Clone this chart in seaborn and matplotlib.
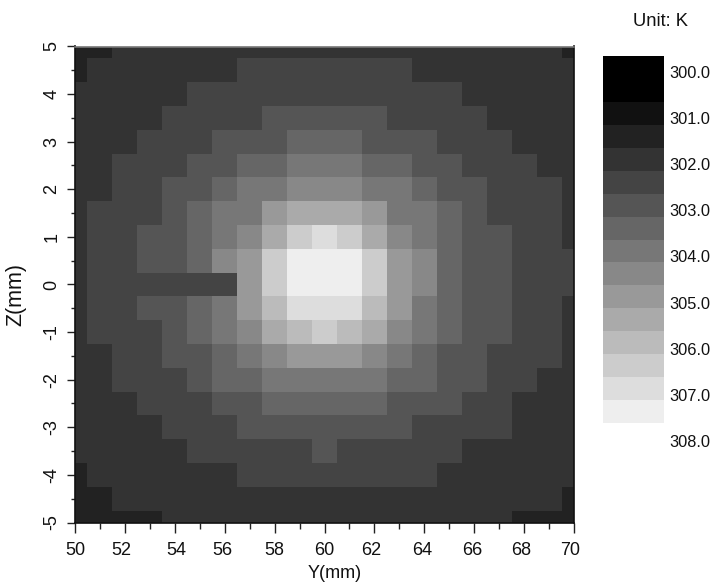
import numpy as np
import pandas as pd
import matplotlib
matplotlib.use("Agg")
import matplotlib.pyplot as plt
from matplotlib.colors import ListedColormap
from matplotlib.transforms import ScaledTranslation
import seaborn as sns

sns.set_style("white")
plt.rcParams['font.family'] = ['Liberation Sans', 'DejaVu Sans']

y_mm = np.arange(50, 71)
z_mm = np.arange(5, -5.5, -0.5)

# grey-band index (0 = coolest) per cell, one list per Z row
z_p50 = [2,2,3,3,3,3,3,3,3,3,3,3,3,3,3,3,3,3,3,3,2]
z_p45 = [2,3,3,3,3,3,3,4,4,4,4,4,4,4,3,3,3,3,3,3,3]
z_p40 = [3,3,3,3,3,4,4,4,4,4,4,4,4,4,4,4,3,3,3,3,3]
z_p35 = [3,3,3,3,4,4,4,4,5,5,5,5,5,4,4,4,4,3,3,3,3]
z_p30 = [3,3,3,4,4,4,5,5,5,6,6,6,5,5,5,4,4,4,3,3,3]
z_p25 = [3,3,4,4,4,5,5,6,6,7,7,7,6,6,5,5,4,4,4,3,3]
z_p20 = [3,3,4,4,5,5,6,7,7,8,8,8,7,7,6,5,5,4,4,4,3]
z_p15 = [3,4,4,4,5,6,7,7,9,10,10,10,9,7,7,6,5,4,4,4,3]
z_p10 = [3,4,4,5,5,6,7,8,10,12,13,12,10,8,7,6,5,5,4,4,3]
z_p05 = [3,4,4,5,5,6,8,9,12,14,14,14,12,9,8,6,5,5,4,4,4]
z_000 = [3,4,4,4,4,4,4,9,12,14,14,14,12,9,8,6,5,5,4,4,4]
z_m05 = [3,4,4,5,5,6,7,9,11,13,13,13,11,9,7,6,5,5,4,4,3]
z_m10 = [3,4,4,4,5,6,7,8,10,11,12,11,10,8,7,6,5,5,4,4,3]
z_m15 = [3,3,4,4,5,5,6,7,8,9,9,9,8,7,6,5,5,4,4,4,3]
z_m20 = [3,3,4,4,4,5,6,6,7,7,7,7,7,6,6,5,5,4,4,3,3]
z_m25 = [3,3,3,4,4,4,5,5,6,6,6,6,6,5,5,5,4,4,3,3,3]
z_m30 = [3,3,3,3,4,4,4,5,5,5,5,5,5,5,4,4,4,4,3,3,3]
z_m35 = [3,3,3,3,3,4,4,4,4,4,5,4,4,4,4,4,3,3,3,3,3]
z_m40 = [2,3,3,3,3,3,3,4,4,4,4,4,4,4,4,3,3,3,3,3,3]
z_m45 = [2,2,3,3,3,3,3,3,3,3,3,3,3,3,3,3,3,3,3,3,2]
z_m50 = [2,2,2,2,3,3,3,3,3,3,3,3,3,3,3,3,3,3,2,2,2]

rows = [z_p50, z_p45, z_p40, z_p35, z_p30, z_p25, z_p20, z_p15, z_p10, z_p05, z_000,
        z_m05, z_m10, z_m15, z_m20, z_m25, z_m30, z_m35, z_m40, z_m45, z_m50]

band_colors = ["#000000", "#111111", "#222222", "#333333", "#444444", "#555555", "#666666",
               "#777777", "#888888", "#999999", "#aaaaaa", "#bbbbbb", "#cccccc", "#dddddd", "#eeeeee"]
legend_bands = [0, 0, 1, 2, 3, 4, 5, 6, 7, 8, 9, 10, 11, 12, 13, 14]
legend_labels = ["300.0", "301.0", "302.0", "303.0", "304.0", "305.0", "306.0", "307.0", "308.0"]
x_major = [50, 52, 54, 56, 58, 60, 62, 64, 66, 68, 70]
z_major = [5, 4, 3, 2, 1, 0, -1, -2, -3, -4, -5]
x_label_shift_px = [0, -4, 2, -2, 0, -0.5, -3, -2, -2, -3, -4]

W, H = 714, 588
def box(l, t, r, b):
    return [l / W, 1 - b / H, (r - l) / W, (b - t) / H]

fig = plt.figure(figsize=(W / 100, H / 100), dpi=100, facecolor="white")
ax = fig.add_axes(box(75, 46.5, 574, 522.5))
cmap = ListedColormap(band_colors)
frame = pd.DataFrame(rows, index=z_mm, columns=y_mm)
sns.heatmap(frame, ax=ax, cmap=cmap, vmin=-0.5, vmax=14.5, cbar=False,
            xticklabels=False, yticklabels=False)

def xp(v):
    return (np.asarray(v, float) - y_mm[0]) + 0.5
def zp(v):
    return (z_mm[0] - np.asarray(v, float)) / 0.5 + 0.5

ax.set_xlim(0.5, 20.5)
ax.set_ylim(20.5, 0.5)
ax.set_xticks(xp(x_major))
ax.set_xticklabels([str(v) for v in x_major], fontsize=13, color="#111111")
ax.set_xticks(xp(y_mm[1::2]), minor=True)
ax.set_yticks(zp(z_major))
ax.set_yticklabels([str(v) for v in z_major], fontsize=13, rotation=90, va="center", color="#111111")
ax.set_yticks(zp(np.arange(4.5, -5, -1)), minor=True)
ax.tick_params(axis="x", which="major", length=7, width=1.0, color="#222222", pad=7, bottom=True)
ax.tick_params(axis="x", which="minor", length=4, width=1.0, color="#222222", bottom=True)
ax.tick_params(axis="y", which="major", length=5.5, width=1.0, color="#222222", pad=5, left=True)
ax.tick_params(axis="y", which="minor", length=3, width=1.0, color="#222222", left=True)
for lab, dx in zip(ax.get_xticklabels(), x_label_shift_px):
    lab.set_transform(lab.get_transform() + ScaledTranslation(dx / 100, 0, fig.dpi_scale_trans))
ax.set_xlabel("Y(mm)", fontsize=13, color="#111111", va="center")
ax.xaxis.set_label_coords((335 - 75) / 499, -(573 - 522.5) / 476)
ax.set_ylabel("Z(mm)", fontsize=15.5, color="#111111", va="center")
ax.yaxis.set_label_coords(-(75 - 16) / 499, (522.5 - 295) / 476)
for side, c in {"left": "#111111", "bottom": "#111111", "right": "#111111", "top": "#777777"}.items():
    ax.spines[side].set_visible(True)
    ax.spines[side].set_color(c)
    ax.spines[side].set_linewidth(1.2)

cax = fig.add_axes(box(603, 56, 664, 423))
sns.heatmap(pd.DataFrame({"k": legend_bands}), ax=cax, cmap=cmap, vmin=-0.5, vmax=14.5, cbar=False,
            xticklabels=False, yticklabels=False)
row_px = 367 / len(legend_bands)
for i, lab in enumerate(legend_labels):
    cax.text(1.09, (73 + i * 46.25 - 56) / row_px, lab, fontsize=11.8, va="center", ha="left",
             color="#111111", clip_on=False)
fig.text(633 / W, 1 - 21.5 / H, "Unit: K", fontsize=13.2, va="center", ha="left", color="#111111")

assert all(len(r) == 21 for r in rows)
fig.savefig("out.png", dpi=100, facecolor="white")
